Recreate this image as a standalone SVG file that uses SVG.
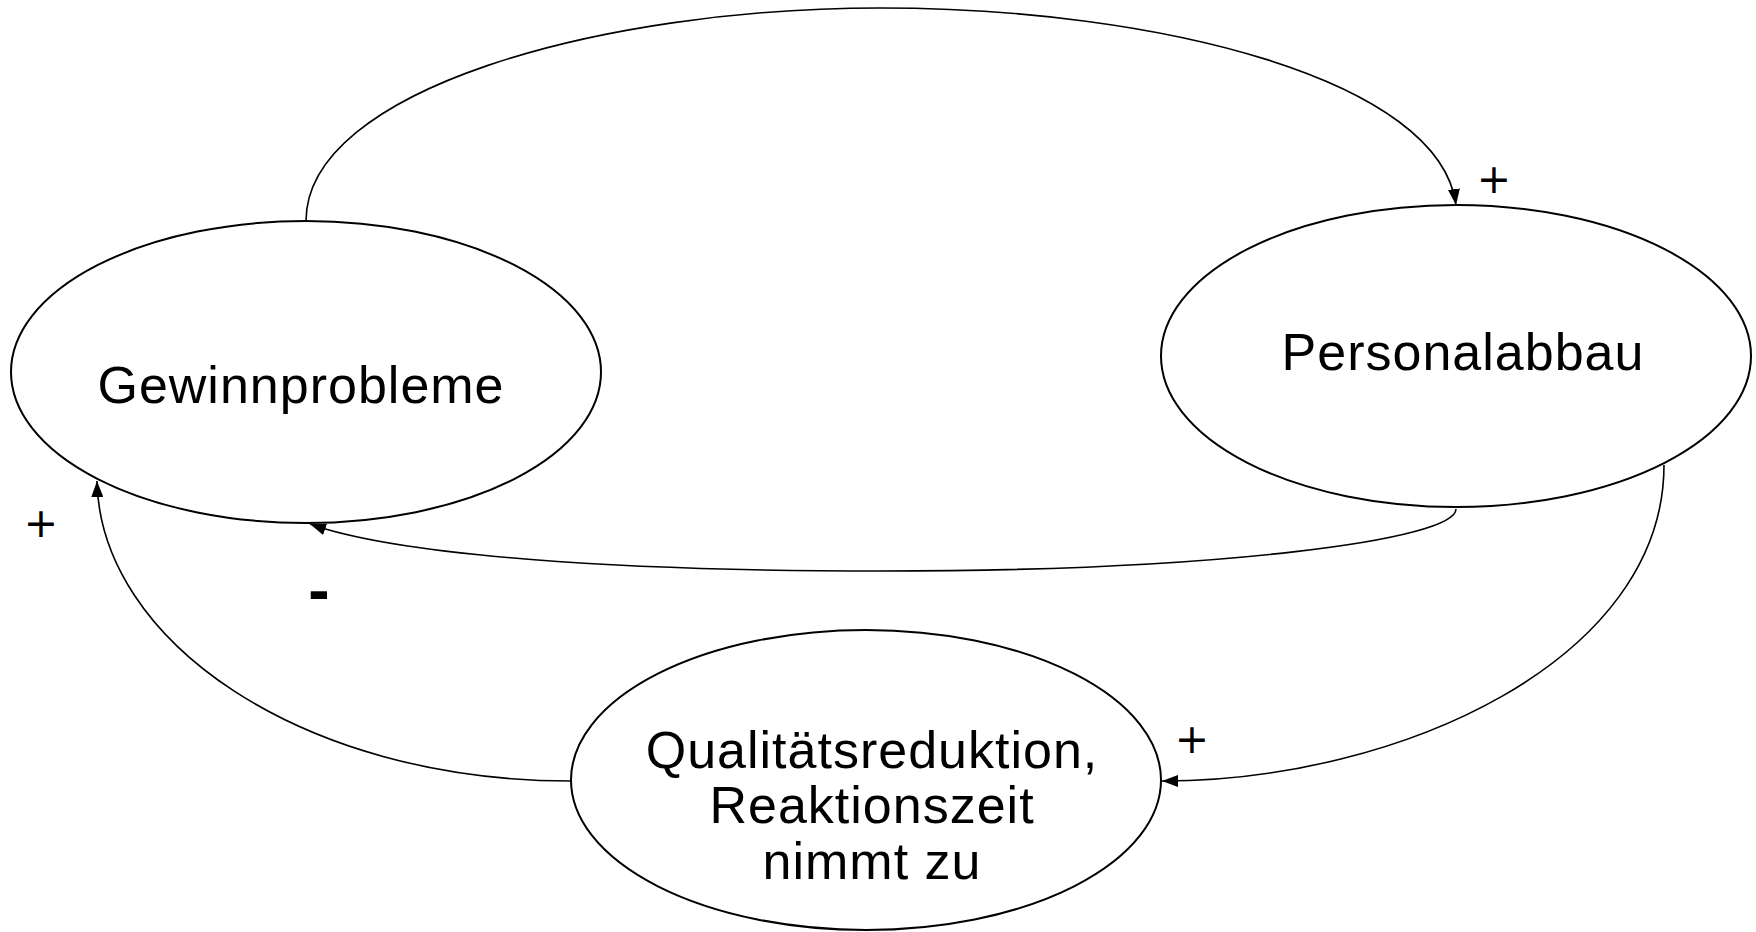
<svg xmlns="http://www.w3.org/2000/svg" width="1756" height="932" viewBox="0 0 1756 932">
  <style>
    .node ellipse { fill: #ffffff; stroke: #000000; stroke-width: 2; }
    .node text { font-family: "Liberation Sans", Arial, sans-serif; font-size: 52px; letter-spacing: 1px; fill: #000000; text-anchor: middle; }
    .edge { fill: none; stroke: #000000; stroke-width: 1.6; marker-end: url(#arrow); }
    .sign { font-family: "DejaVu Sans", sans-serif; font-size: 41px; fill: #000000; text-anchor: middle; }
    .minus { font-family: "Liberation Sans", Arial, sans-serif; font-size: 64px; font-weight: bold; fill: #000000; text-anchor: middle; }
  </style>
  <defs>
    <marker id="arrow" viewBox="0 0 16 12" refX="16" refY="6" markerWidth="16" markerHeight="12" markerUnits="userSpaceOnUse" orient="auto">
      <path d="M0,0 L16,6 L0,12 Z" fill="#000000"/>
    </marker>
  </defs>
  <rect width="1756" height="932" fill="#ffffff"/>

  <g id="connectors">
    <!-- Gewinnprobleme -> Personalabbau (top arc) -->
    <path class="edge" d="M306,221 C306,90 600,8 880,8 C1160,8 1440,80 1456,205"/>
    <!-- Personalabbau -> Gewinnprobleme (lower arc) -->
    <path class="edge" d="M1456,509 C1456,540 1220,571 880,571 C620,571 400,556 310,524"/>
    <!-- Personalabbau -> Qualitätsreduktion -->
    <path class="edge" d="M1664,465 C1664,660 1400,781 1162,781"/>
    <!-- Qualitätsreduktion -> Gewinnprobleme -->
    <path class="edge" d="M571,781 C300,781 100,640 97,481"/>
  </g>

  <g id="labels">
    <text class="sign" x="1494" y="193">+</text>
    <text class="sign" x="41" y="537">+</text>
    <text class="sign" x="1192" y="753">+</text>
    <text class="minus" x="319" y="612">-</text>
  </g>

  <g id="gewinnprobleme" class="node">
    <ellipse cx="306" cy="372" rx="295" ry="151"/>
    <text x="301" y="403">Gewinnprobleme</text>
  </g>

  <g id="personalabbau" class="node">
    <ellipse cx="1456" cy="356" rx="295" ry="151"/>
    <text x="1463" y="370">Personalabbau</text>
  </g>

  <g id="qualitaetsreduktion" class="node">
    <ellipse cx="866" cy="780" rx="295" ry="150"/>
    <text x="872" y="768">Qualitätsreduktion,</text>
    <text x="872" y="823">Reaktionszeit</text>
    <text x="872" y="879">nimmt zu</text>
  </g>
</svg>
